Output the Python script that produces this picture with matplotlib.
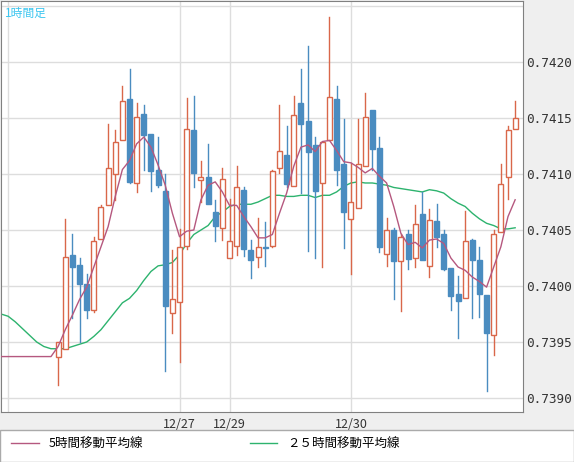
import numpy as np
import matplotlib
matplotlib.use("Agg")
import matplotlib.pyplot as plt
from matplotlib.patches import Rectangle
from matplotlib.lines import Line2D

plt.rcParams['font.family'] = ['Noto Sans CJK JP', 'DejaVu Sans']

# hourly OHLC, in units of 1e-5
opens = [73937, 73944, 74028, 74019, 74002, 73979, 74042, 74072, 74100, 74130,
         74167, 74092, 74154, 74136, 74104, 74085, 73976, 73986, 74036, 74139,
         74095, 74097, 74066, 74052, 74025, 74036, 74086, 74032, 74026, 74035,
         74036, 74105, 74117, 74089, 74163, 74147, 74126, 74092, 74130, 74167,
         74109, 74060, 74070, 74107, 74157, 74123, 74029, 74050, 74022, 74046,
         74025, 74064, 74018, 74058, 74046, 74016, 73993, 73989, 74041, 74023,
         73992, 73956, 74048, 74097, 74140]
highs = [73950, 74060, 74046, 74025, 74011, 74044, 74072, 74145, 74139, 74179,
         74194, 74163, 74162, 74136, 74133, 74100, 74032, 74051, 74168, 74170,
         74112, 74127, 74077, 74105, 74078, 74107, 74088, 74041, 74061, 74057,
         74104, 74162, 74143, 74170, 74194, 74214, 74133, 74129, 74240, 74179,
         74149, 74110, 74149, 74172, 74157, 74133, 74061, 74052, 74046, 74050,
         74072, 74084, 74069, 74073, 74050, 74016, 74009, 74067, 74042, 74035,
         73992, 74050, 74109, 74143, 74165]
lows = [73912, 73944, 73971, 73950, 73971, 73977, 74042, 74072, 74077, 74130,
        74092, 74084, 74104, 74085, 74088, 73924, 73958, 73932, 74033, 74088,
        74075, 74073, 74040, 74041, 74025, 74028, 74027, 74007, 74017, 74018,
        74035, 74101, 74088, 74089, 74083, 74031, 74025, 74017, 74130, 74090,
        74034, 74011, 74070, 74107, 74104, 74030, 74018, 73988, 73978, 74015,
        74017, 74023, 74008, 74035, 74014, 73979, 73954, 73989, 73971, 73972,
        73906, 73938, 74048, 74078, 74140]
closes = [73950, 74026, 74017, 74002, 73979, 74040, 74071, 74105, 74129, 74165,
          74093, 74151, 74135, 74103, 74090, 73982, 73988, 74035, 74140, 74101,
          74097, 74073, 74054, 74096, 74040, 74088, 74033, 74023, 74035, 74034,
          74103, 74121, 74091, 74153, 74145, 74120, 74085, 74129, 74169, 74104,
          74066, 74075, 74109, 74151, 74122, 74035, 74050, 74022, 74044, 74024,
          74055, 74023, 74059, 74044, 74015, 73991, 73987, 74040, 74023, 73993,
          73958, 74046, 74091, 74139, 74150]

# moving averages, starting 8 hours before the first candle
ma5 = [73937] * 8 + [
    73946, 73961, 73974, 73988, 73999, 74017, 74035, 74053, 74080, 74104,
    74112, 74127, 74133, 74124, 74108, 74090, 74065, 74044, 74049, 74050,
    74077, 74090, 74093, 74084, 74072, 74072, 74062, 74053, 74043, 74043,
    74046, 74065, 74083, 74107, 74124, 74126, 74120, 74129, 74130, 74121,
    74111, 74110, 74106, 74101, 74105, 74098, 74092, 74071, 74047, 74037,
    74039, 74034, 74041, 74042, 74038, 74025, 74017, 74014, 74008, 74004,
    73999, 74017, 74035, 74062, 74077]
ma25 = [73975, 73973, 73968, 73962, 73956, 73950, 73946, 73944,
        73944, 73944, 73946, 73948, 73950, 73955, 73961, 73969, 73977, 73985,
        73989, 73996, 74005, 74013, 74018, 74019, 74021, 74028, 74038, 74046,
        74050, 74054, 74062, 74066, 74071, 74073, 74073, 74073, 74075, 74078,
        74081, 74081, 74080, 74080, 74081, 74081, 74079, 74081, 74081, 74084,
        74089, 74092, 74093, 74092, 74092, 74091, 74090, 74088, 74087, 74086,
        74085, 74084, 74086, 74085, 74083, 74078, 74074, 74071, 74065, 74060,
        74056, 74054, 74051, 74051, 74052]

date_pos = [17, 24, 41]
date_labels = ["12/27", "12/29", "12/30"]
price_ticks = [0.7390, 0.7395, 0.7400, 0.7405, 0.7410, 0.7415, 0.7420]

UP = "#d9674a"
DOWN = "#4a8cc0"

W, H = 574, 462
fig = plt.figure(figsize=(W / 100, H / 100), dpi=100, facecolor="#efefef")
ax = fig.add_axes([1 / W, 1 - 412 / H, 522 / W, 411 / H])
ax.set_facecolor("white")

o = np.array(opens) / 1e5
h = np.array(highs) / 1e5
l = np.array(lows) / 1e5
c = np.array(closes) / 1e5
x = np.arange(len(o))

for i in x:
    col = UP if c[i] >= o[i] else DOWN
    lo_b, hi_b = min(o[i], c[i]), max(o[i], c[i])
    ax.plot([i, i], [hi_b, h[i]], color=col, lw=1, zorder=3)
    ax.plot([i, i], [l[i], lo_b], color=col, lw=1, zorder=3)
    face = "white" if col == UP else DOWN
    ax.add_patch(Rectangle((i - 0.35, lo_b), 0.7, max(hi_b - lo_b, 1e-6),
                           facecolor=face, edgecolor=col, lw=1, zorder=4))

xm = np.arange(-8, len(o))
ax.plot(xm, np.array(ma5) / 1e5, color="#b5587f", lw=1, zorder=5)
ax.plot(xm, np.array(ma25) / 1e5, color="#2db36e", lw=1, zorder=2)

ax.set_xlim(-8.0, 65.1)
ax.set_ylim(0.738875, 0.742545)
for y in price_ticks + [0.7425]:
    ax.axhline(y, color="#dddddd", lw=1, zorder=0)
for xv in [-7] + date_pos:
    ax.axvline(xv, color="#dddddd", lw=1, zorder=0)

ax.yaxis.tick_right()
ax.set_yticks(price_ticks)
ax.set_yticklabels([f"{t:.4f}" for t in price_ticks], family="DejaVu Sans Mono",
                   fontsize=9.2, color="#333333")
ax.set_xticks(date_pos)
ax.set_xticklabels(date_labels, fontsize=9, color="#333333")
ax.tick_params(axis="y", length=0, pad=2)
ax.tick_params(axis="x", length=0, pad=4)
for s in ax.spines.values():
    s.set_color("#808080")

ax.text(0.008, 0.985, "1時間足", transform=ax.transAxes, color="#3cc6f0",
        fontsize=8.5, va="top", ha="left")

# legend strip
fig.patches.append(Rectangle((0, 0), 1, 32 / H, transform=fig.transFigure,
                             facecolor="white", edgecolor="#aaaaaa", lw=1))
handles = [Line2D([], [], color="#b5587f", lw=1), Line2D([], [], color="#2db36e", lw=1)]
fig.legend(handles, ["5時間移動平均線", "２５時間移動平均線"], loc="lower left",
           bbox_to_anchor=(0.0, 0.0), ncol=2, frameon=False, fontsize=9,
           handlelength=2.2, columnspacing=8.5)

fig.savefig("out.png", dpi=100, facecolor=fig.get_facecolor())
